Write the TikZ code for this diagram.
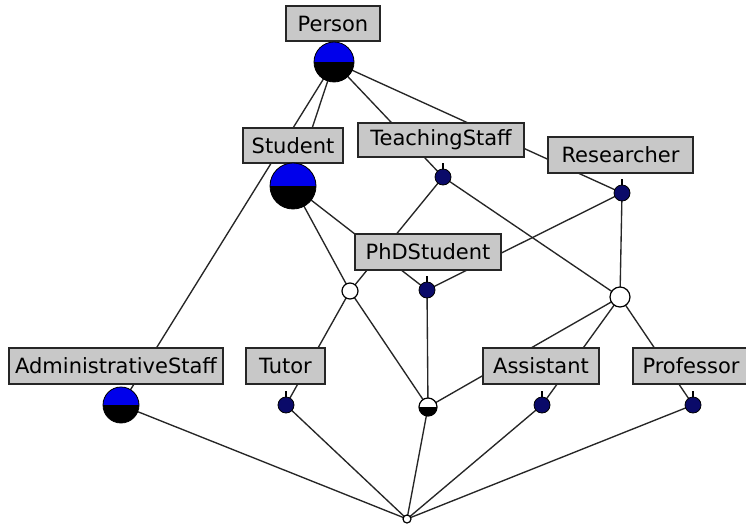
\documentclass[tikz,border=0pt]{standalone}
\usepackage{fontspec}
\setmainfont{DejaVu Sans}
\usetikzlibrary{backgrounds}
\definecolor{boxgray}{RGB}{200,200,200}
\definecolor{navyball}{RGB}{10,10,105}
\definecolor{topblue}{RGB}{0,0,235}
\begin{document}
\begin{tikzpicture}[x=1pt,y=-1pt,
  lbl/.style={draw=black!85, fill=boxgray, line width=1.3pt, minimum height=35pt, inner sep=0pt, font=\fontsize{21}{25}\selectfont},
  edge/.style={line width=1.35pt, black!85},
  big/.style={circle, draw=black, fill=black, line width=0.8pt, minimum size=#1, inner sep=0pt,
    path picture={\fill[topblue] (path picture bounding box.north west) rectangle (path picture bounding box.east);}},
  dot/.style={circle, draw=black, fill=navyball, line width=0.8pt, minimum size=16pt, inner sep=0pt},
  empty/.style={circle, draw=black, fill=white, line width=1.2pt, minimum size=#1, inner sep=0pt},
  half/.style={circle, draw=black, fill=black, line width=1.2pt, minimum size=#1, inner sep=0pt,
    path picture={\fill[white] (path picture bounding box.north west) rectangle (path picture bounding box.east);}},
  tick/.style={line width=1.2pt, black}
]
\useasboundingbox (0,0) rectangle (746,524);

% labels
\node[lbl, minimum width=94pt] (lPerson) at (333,23.5) {Person};
\node[lbl, minimum width=100pt] (lStudent) at (293,145.5) {Student};
\node[lbl, minimum width=166pt, minimum height=34pt] (lTS) at (441,140) {TeachingStaff};
\node[lbl, minimum width=145pt, minimum height=36pt] (lRes) at (620.5,155) {Researcher};
\node[lbl, minimum width=146pt, minimum height=36pt] (lPhD) at (428,252) {PhDStudent};
\node[lbl, minimum width=214pt, minimum height=36pt] (lAdmin) at (116,366) {AdministrativeStaff};
\node[lbl, minimum width=79pt, minimum height=36pt] (lTutor) at (285.5,366) {Tutor};
\node[lbl, minimum width=116pt, minimum height=36pt] (lAsst) at (541,366) {Assistant};
\node[lbl, minimum width=116pt, minimum height=36pt] (lProf) at (691,366) {Professor};

% concept nodes
\node[big=40pt] (person) at (334,62) {};
\node[big=46pt] (student) at (293,186) {};
\node[big=36pt] (admin) at (121,405) {};
\node[dot] (ts) at (443,177) {};
\node[dot] (res) at (622,193) {};
\node[dot] (phd) at (427,290) {};
\node[dot] (tutor) at (286,405) {};
\node[dot] (asst) at (542,405) {};
\node[dot] (prof) at (693,405) {};
\node[empty=16pt] (w1) at (350,291) {};
\node[empty=20pt] (w2) at (620,297) {};
\node[half=18pt] (h) at (428,407) {};
\node[empty=8pt] (bot) at (407,519) {};

% ticks
\foreach \n in {ts,res,phd,tutor,asst,prof}{
  \draw[tick] (\n.north) -- ++(0,-6);
}

\begin{pgfonlayer}{background}
\fill[white] (0,0) rectangle (746,524);
\draw[edge] (person.center) -- (student.center);
\draw[edge] (person.center) -- (admin.center);
\draw[edge] (person.center) -- (ts.center);
\draw[edge] (person.center) -- (res.center);
\draw[edge] (student.center) -- (phd.center);
\draw[edge] (student.center) -- (w1.center);
\draw[edge] (ts.center) -- (w1.center);
\draw[edge] (ts.center) -- (w2.center);
\draw[edge] (res.center) -- (phd.center);
\draw[edge] (res.center) -- (w2.center);
\draw[edge] (phd.center) -- (h.center);
\draw[edge] (w1.center) -- (tutor.center);
\draw[edge] (w1.center) -- (h.center);
\draw[edge] (w2.center) -- (h.center);
\draw[edge] (w2.center) -- (asst.center);
\draw[edge] (w2.center) -- (prof.center);
\draw[edge] (bot.center) -- (admin.center);
\draw[edge] (bot.center) -- (tutor.center);
\draw[edge] (bot.center) -- (h.center);
\draw[edge] (bot.center) -- (asst.center);
\draw[edge] (bot.center) -- (prof.center);
\end{pgfonlayer}
\end{tikzpicture}
\end{document}
